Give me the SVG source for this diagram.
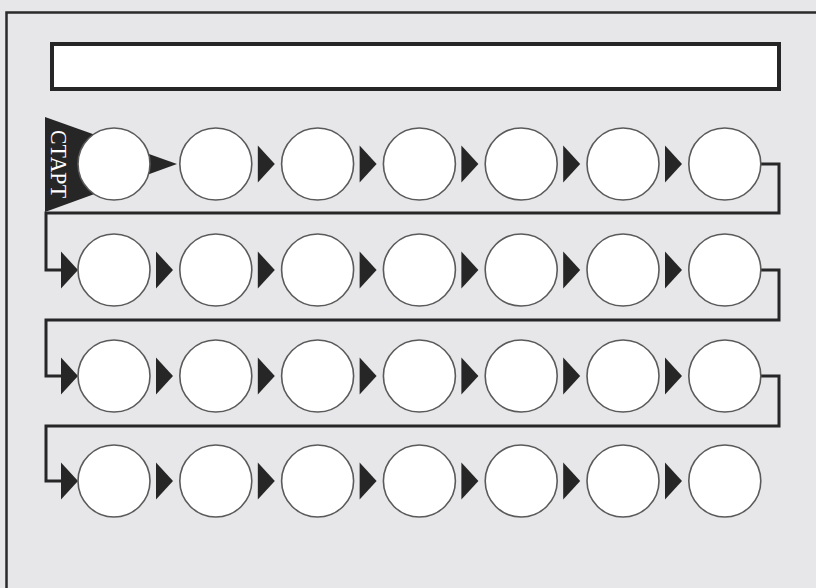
<svg xmlns="http://www.w3.org/2000/svg" width="816" height="588" viewBox="0 0 816 588">
<defs>
<style>
.c{fill:#ffffff;stroke:#5a5a5a;stroke-width:1.6}
.a{fill:#262626}
.ln{fill:none;stroke:#262626;stroke-width:3}
</style>
</defs>
<rect x="0" y="0" width="816" height="588" fill="#e7e7ea"/>
<path d="M6.5 600 V12.5 H830" fill="none" stroke="#2a2a2a" stroke-width="2.5"/>
<rect id="title" x="52" y="44" width="727" height="45" fill="#ffffff" stroke="#262626" stroke-width="4"/>
<g id="start">
<polygon class="a" points="45,117 45,212 177,164"/>
<text x="0" y="0" transform="translate(51,164) rotate(90)" text-anchor="middle" font-family="Liberation Serif, serif" font-size="23" fill="#ffffff" textLength="68" lengthAdjust="spacingAndGlyphs">СТАРТ</text>
</g>
<g id="connectors">
<path class="ln" d="M760 164 H779 V213 H46 V270 H62"/>
<path class="ln" d="M760 270 H779 V320 H46 V376 H62"/>
<path class="ln" d="M760 376 H779 V426 H46 V481 H62"/>
<polygon class="a" points="61,251.5 78,270 61,288.5"/>
<polygon class="a" points="61,357.5 78,376 61,394.5"/>
<polygon class="a" points="61,462.5 78,481 61,499.5"/>
<polygon class="a" points="257.8,145.5 274.8,164 257.8,182.5"/>
<polygon class="a" points="359.6,145.5 376.6,164 359.6,182.5"/>
<polygon class="a" points="461.4,145.5 478.4,164 461.4,182.5"/>
<polygon class="a" points="563.2,145.5 580.2,164 563.2,182.5"/>
<polygon class="a" points="665,145.5 682,164 665,182.5"/>
<polygon class="a" points="156,251.5 173,270 156,288.5"/>
<polygon class="a" points="257.8,251.5 274.8,270 257.8,288.5"/>
<polygon class="a" points="359.6,251.5 376.6,270 359.6,288.5"/>
<polygon class="a" points="461.4,251.5 478.4,270 461.4,288.5"/>
<polygon class="a" points="563.2,251.5 580.2,270 563.2,288.5"/>
<polygon class="a" points="665,251.5 682,270 665,288.5"/>
<polygon class="a" points="156,357.5 173,376 156,394.5"/>
<polygon class="a" points="257.8,357.5 274.8,376 257.8,394.5"/>
<polygon class="a" points="359.6,357.5 376.6,376 359.6,394.5"/>
<polygon class="a" points="461.4,357.5 478.4,376 461.4,394.5"/>
<polygon class="a" points="563.2,357.5 580.2,376 563.2,394.5"/>
<polygon class="a" points="665,357.5 682,376 665,394.5"/>
<polygon class="a" points="156,462.5 173,481 156,499.5"/>
<polygon class="a" points="257.8,462.5 274.8,481 257.8,499.5"/>
<polygon class="a" points="359.6,462.5 376.6,481 359.6,499.5"/>
<polygon class="a" points="461.4,462.5 478.4,481 461.4,499.5"/>
<polygon class="a" points="563.2,462.5 580.2,481 563.2,499.5"/>
<polygon class="a" points="665,462.5 682,481 665,499.5"/>
</g>
<g id="n1-1"><circle class="c" cx="114" cy="164" r="36"/></g>
<g id="n1-2"><circle class="c" cx="215.8" cy="164" r="36"/></g>
<g id="n1-3"><circle class="c" cx="317.6" cy="164" r="36"/></g>
<g id="n1-4"><circle class="c" cx="419.4" cy="164" r="36"/></g>
<g id="n1-5"><circle class="c" cx="521.2" cy="164" r="36"/></g>
<g id="n1-6"><circle class="c" cx="623" cy="164" r="36"/></g>
<g id="n1-7"><circle class="c" cx="724.8" cy="164" r="36"/></g>
<g id="n2-1"><circle class="c" cx="114" cy="270" r="36"/></g>
<g id="n2-2"><circle class="c" cx="215.8" cy="270" r="36"/></g>
<g id="n2-3"><circle class="c" cx="317.6" cy="270" r="36"/></g>
<g id="n2-4"><circle class="c" cx="419.4" cy="270" r="36"/></g>
<g id="n2-5"><circle class="c" cx="521.2" cy="270" r="36"/></g>
<g id="n2-6"><circle class="c" cx="623" cy="270" r="36"/></g>
<g id="n2-7"><circle class="c" cx="724.8" cy="270" r="36"/></g>
<g id="n3-1"><circle class="c" cx="114" cy="376" r="36"/></g>
<g id="n3-2"><circle class="c" cx="215.8" cy="376" r="36"/></g>
<g id="n3-3"><circle class="c" cx="317.6" cy="376" r="36"/></g>
<g id="n3-4"><circle class="c" cx="419.4" cy="376" r="36"/></g>
<g id="n3-5"><circle class="c" cx="521.2" cy="376" r="36"/></g>
<g id="n3-6"><circle class="c" cx="623" cy="376" r="36"/></g>
<g id="n3-7"><circle class="c" cx="724.8" cy="376" r="36"/></g>
<g id="n4-1"><circle class="c" cx="114" cy="481" r="36"/></g>
<g id="n4-2"><circle class="c" cx="215.8" cy="481" r="36"/></g>
<g id="n4-3"><circle class="c" cx="317.6" cy="481" r="36"/></g>
<g id="n4-4"><circle class="c" cx="419.4" cy="481" r="36"/></g>
<g id="n4-5"><circle class="c" cx="521.2" cy="481" r="36"/></g>
<g id="n4-6"><circle class="c" cx="623" cy="481" r="36"/></g>
<g id="n4-7"><circle class="c" cx="724.8" cy="481" r="36"/></g>
</svg>
